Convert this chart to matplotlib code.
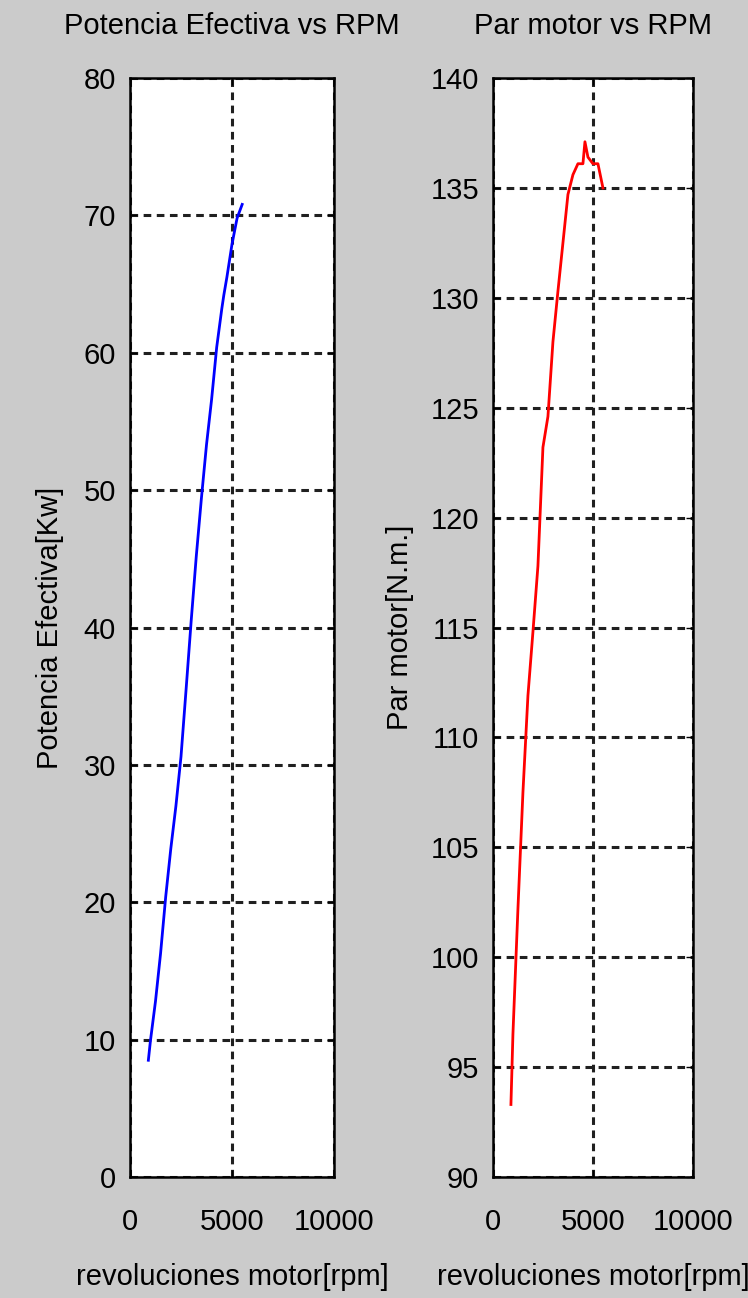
import numpy as np
import matplotlib.pyplot as plt

plt.rcParams['font.family'] = ['Liberation Sans Narrow', 'Liberation Sans', 'DejaVu Sans']

# engine speed (rpm) and measured values
rpm = [900, 1000, 1250, 1500, 1750, 2000, 2250, 2500, 2750, 3000, 3250,
       3500, 3750, 4000, 4250, 4500, 4600, 4750, 5000, 5250, 5500]
potencia = [8.5, 9.9, 12.8, 16.3, 20.4, 23.9, 27.0, 30.6, 35.5, 40.5, 45.2,
            49.4, 53.3, 56.6, 60.4, 63.2, 64.2, 65.5, 67.9, 69.8, 70.8]
par = [93.3, 96.5, 102.2, 107.5, 111.9, 114.8, 117.8, 123.2, 124.6, 128.0, 130.3,
       132.5, 134.7, 135.6, 136.1, 136.1, 137.1, 136.4, 136.1, 136.1, 135.0]

bg = '#cbcbcb'
fig = plt.figure(figsize=(7.48, 12.98), dpi=100, facecolor=bg)

ax1 = fig.add_axes([0.1738, 0.0932, 0.2727, 0.8467])
ax2 = fig.add_axes([0.6590, 0.0932, 0.2674, 0.8467])

fs = 21
for ax in (ax1, ax2):
    ax.set_xlim(0, 10000)
    ax.set_xticks([0, 5000, 10000])
    ax.grid(True, color='#202020', linestyle=(0, (2.5, 1.8)), linewidth=2.2)
    ax.tick_params(direction='in', length=5, width=1, labelsize=fs, pad=22,
                   top=True, right=True)
    ax.tick_params(axis='y', pad=10)
    for s in ax.spines.values():
        s.set_linewidth(1.8)
    ax.set_xlabel('revoluciones motor[rpm]', fontsize=fs, labelpad=20)

ax1.plot(rpm, potencia, color='#0000ff', linewidth=2)
ax1.set_ylim(0, 80)
ax1.set_yticks(np.arange(0, 81, 10))
ax1.set_title('Potencia Efectiva vs RPM', fontsize=fs, pad=32)
ax1.set_ylabel('Potencia Efectiva[Kw]', fontsize=fs, labelpad=14)

ax2.plot(rpm, par, color='#ff0000', linewidth=2)
ax2.set_ylim(90, 140)
ax2.set_yticks(np.arange(90, 141, 5))
ax2.set_title('Par motor vs RPM', fontsize=fs, pad=32)
ax2.set_ylabel('Par motor[N.m.]', fontsize=fs, labelpad=12)

fig.savefig('out.png', dpi=100, facecolor=bg)
